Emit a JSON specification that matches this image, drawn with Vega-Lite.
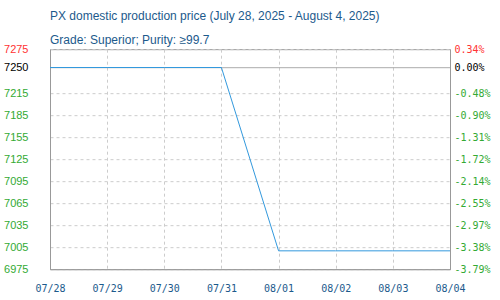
{
  "$schema": "https://vega.github.io/schema/vega-lite/v6.json",
  "width": 400,
  "height": 220,
  "autosize": {"type": "none"},
  "padding": {"left": 50, "top": 49.17, "right": 50, "bottom": 30.83},
  "background": "white",
  "title": {
    "text": "PX domestic production price (July 28, 2025 - August 4, 2025)",
    "subtitle": "Grade: Superior; Purity: ≥99.7",
    "anchor": "start",
    "frame": "group",
    "font": "Liberation Sans",
    "fontSize": 12,
    "fontWeight": "normal",
    "color": "#1c5a8c",
    "subtitleFont": "Liberation Sans",
    "subtitleFontSize": 12,
    "subtitleColor": "#1c5a8c",
    "subtitlePadding": 12,
    "offset": -4
  },
  "config": {
    "view": {"stroke": "#999999", "strokeWidth": 1}
  },
  "data": {
    "values": [
      {"date": "07/28", "price": 7250},
      {"date": "07/29", "price": 7250},
      {"date": "07/30", "price": 7250},
      {"date": "07/31", "price": 7250},
      {"date": "08/01", "price": 7000},
      {"date": "08/02", "price": 7000},
      {"date": "08/03", "price": 7000},
      {"date": "08/04", "price": 7000}
    ]
  },
  "encoding": {
    "x": {
      "field": "date",
      "type": "ordinal",
      "scale": {"type": "point", "padding": 0},
      "axis": {
        "title": null,
        "labelAngle": 0,
        "labelFont": "DejaVu Sans Mono",
        "labelFontSize": 10,
        "labelColor": "#1c5a8c",
        "labelPadding": 14,
        "ticks": false,
        "domainColor": "#999999",
        "grid": true,
        "gridColor": "#cccccc",
        "gridDash": [3, 3]
      }
    }
  },
  "layer": [
    {
      "mark": {"type": "line", "color": "#3399dd", "strokeOpacity": 0, "strokeWidth": 1},
      "encoding": {
        "y": {
          "field": "price",
          "type": "quantitative",
          "scale": {"domain": [6975, 7275], "nice": false, "zero": false},
          "axis": {
            "orient": "right",
            "title": null,
            "values": [6975, 7005, 7035, 7065, 7095, 7125, 7155, 7185, 7215, 7250, 7275],
            "labelExpr": "replace(format((datum.value - 7250) / 7250 * 100, '.2f'), '−', '-') + '%'",
            "labelFont": "DejaVu Sans Mono",
            "labelFontSize": 10,
            "labelColor": {"expr": "datum.value > 7250 ? '#ff3333' : (datum.value == 7250 ? '#000000' : '#33aa33')"},
            "labelPadding": 4,
            "ticks": false,
            "grid": false,
            "domainColor": "#999999"
          }
        }
      }
    },
    {
      "mark": {"type": "line", "color": "#3399dd", "strokeWidth": 1},
      "encoding": {
        "y": {
          "field": "price",
          "type": "quantitative",
          "scale": {"domain": [6975, 7275], "nice": false, "zero": false},
          "axis": {
            "orient": "left",
            "title": null,
            "values": [6975, 7005, 7035, 7065, 7095, 7125, 7155, 7185, 7215, 7250, 7275],
            "format": "d",
            "labelFont": "Liberation Sans",
            "labelFontSize": 11,
            "labelColor": {"expr": "datum.value > 7250 ? '#ff3333' : (datum.value == 7250 ? '#000000' : '#33aa33')"},
            "labelPadding": 22,
            "ticks": false,
            "grid": true,
            "gridColor": {"expr": "datum.value == 7250 ? '#999999' : '#cccccc'"},
            "gridDash": {"expr": "datum.value == 7250 ? [1, 0] : [3, 3]"},
            "domainColor": "#999999"
          }
        }
      }
    }
  ],
  "resolve": {"scale": {"y": "independent"}, "axis": {"y": "independent"}}
}
